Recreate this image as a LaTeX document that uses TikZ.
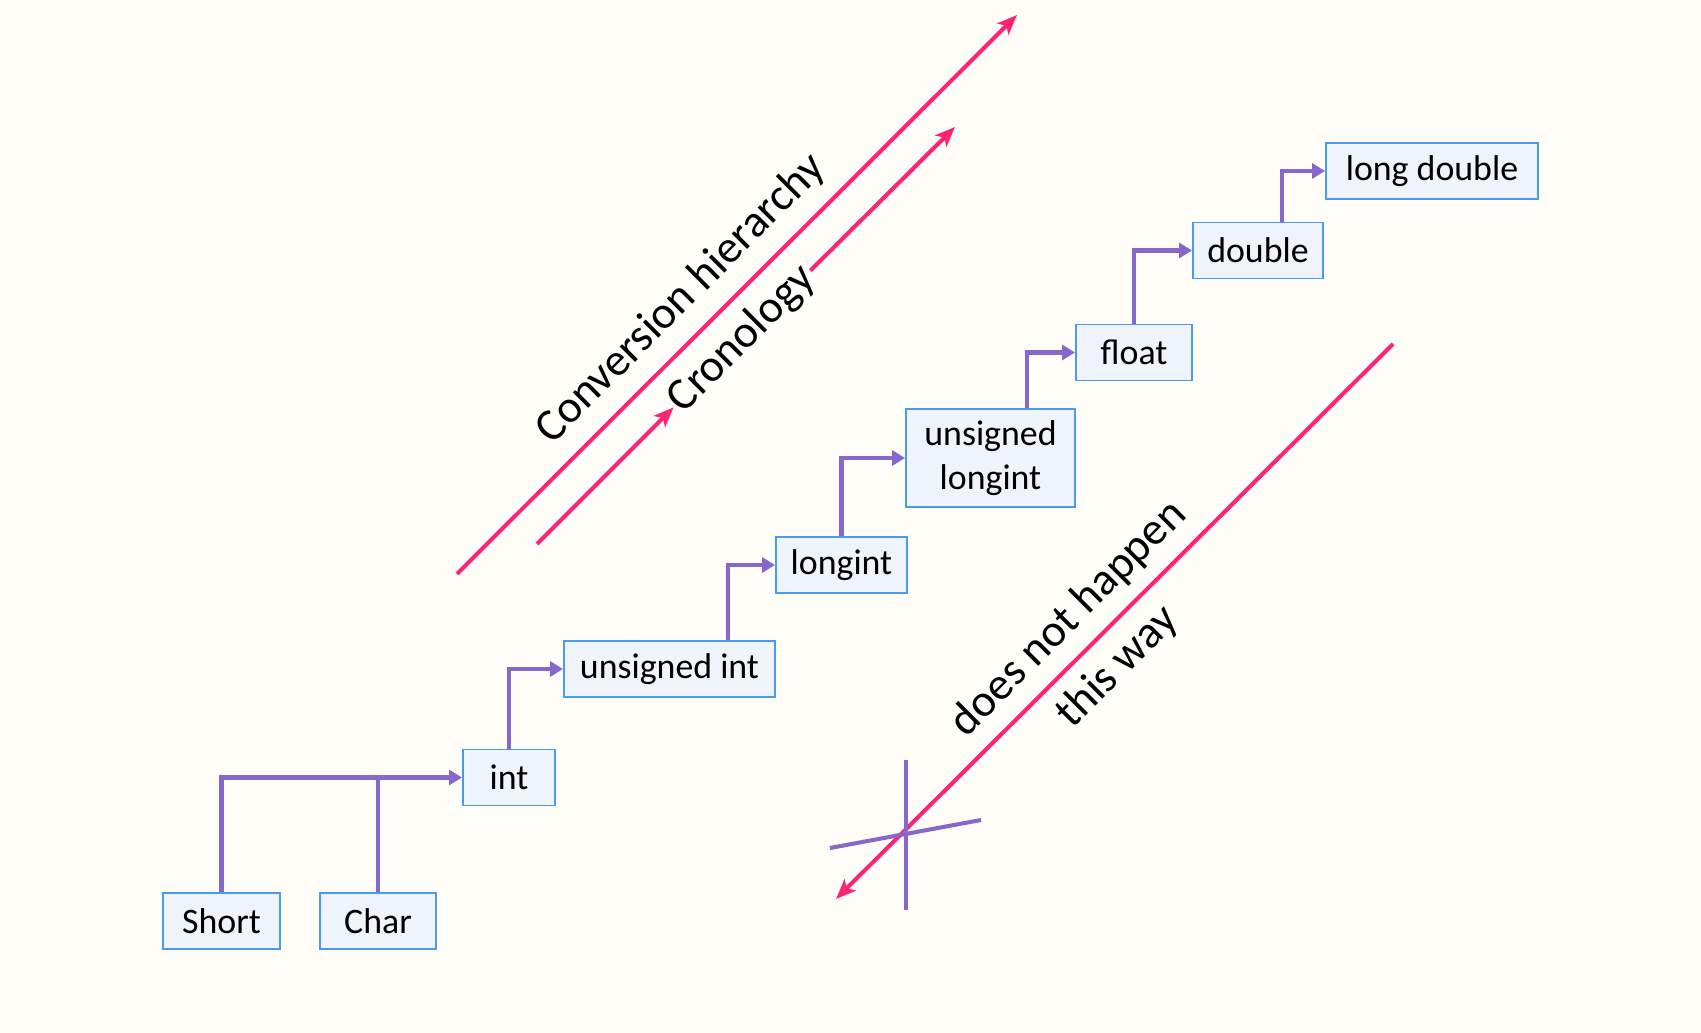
\documentclass[tikz,border=0pt]{standalone}
\usepackage{fontspec}
\setmainfont{Carlito}
\usetikzlibrary{arrows.meta}

\definecolor{bgcream}{HTML}{FEFDF8}
\definecolor{boxfill}{HTML}{EFF3FA}
\definecolor{boxline}{HTML}{4A9AF0}
\definecolor{linkpurple}{HTML}{8767CB}
\definecolor{hotpink}{HTML}{FF2376}

\tikzset{
    typebox/.style={rectangle, draw=boxline, fill=boxfill, line width=0.55pt,
        minimum height=5.6mm, inner sep=0pt, align=center,
        font=\fontsize{10.2}{12.4}\selectfont},
    link/.style={draw=linkpurple, line width=1.15pt,
        -{Triangle[length=1.3mm, width=1.5mm]}},
    trend/.style={draw=hotpink, line width=1.15pt,
        -{Stealth[length=2mm, width=1.6mm, inset=0.5mm]}},
    strike/.style={draw=linkpurple, line width=1.15pt},
    tag/.style={inner sep=0.5pt, font=\fontsize{13}{15.6}\selectfont}
}

\begin{document}
\begin{tikzpicture}[x=0.1mm, y=-0.1mm]

    \fill[bgcream] (0,0) rectangle (1701,1033);
    \useasboundingbox (0,0) rectangle (1701,1033);

    % the types, lowest rank first
    \node[typebox, minimum width=11.7mm] (short) at (221.5,921) {Short};
    \node[typebox, minimum width=11.6mm] (char) at (378,921) {Char};
    \node[typebox, minimum width=9.2mm] (int) at (509,777.5) {int};
    \node[typebox, minimum width=21.1mm] (uint) at (669.5,669) {unsigned int};
    \node[typebox, minimum width=13.1mm] (lint) at (841.5,565) {longint};
    \node[typebox, minimum width=16.9mm, minimum height=9.8mm] (ulint) at (990.5,458) {unsigned\\longint};
    \node[typebox, minimum width=11.6mm] (float) at (1134,352.5) {float};
    \node[typebox, minimum width=13mm] (double) at (1258,250.5) {double};
    \node[typebox, minimum width=21.2mm] (ldouble) at (1432,171) {long double};

    % promotions
    \draw[link] (short.north) |- (int.west);
    \draw[strike] (char.north) -- (char.north |- int.west);
    \draw[link] (int.north) |- (uint.west);
    \draw[link] ([xshift=5.85mm]uint.north) |- (lint.west);
    \draw[link] (lint.north) |- (ulint.west);
    \draw[link] ([xshift=3.65mm]ulint.north) |- (float.west);
    \draw[link] (float.north) |- (double.west);
    \draw[link] ([xshift=2.4mm]double.north) |- (ldouble.west);

    % direction of the hierarchy
    \coordinate (hier start) at (457,574);
    \coordinate (hier end) at (1017,15);
    \draw[trend] (hier start) -- (hier end);
    \node[tag, rotate=45] (hier) at (681,299) {Conversion hierarchy};

    \coordinate (cron start) at (537,544);
    \coordinate (cron end) at (955,127);
    \node[tag, rotate=45] (cron) at (742,339) {Cronology};
    \draw[trend] (cron start) -- (cron.west);
    \draw[trend] (cron.east) -- (cron end);

    % the crossed out way back
    \coordinate (back start) at (1393,344);
    \coordinate (back end) at (836,899);
    \draw[trend] (back start) -- (back end);
    \node[tag, rotate=45, align=center] (never) at (1093,643) {does not happen\\[4pt]this way};
    \draw[strike] (906,760) -- (906,910);
    \draw[strike] (830,848) -- (981,820);
\end{tikzpicture}
\end{document}
